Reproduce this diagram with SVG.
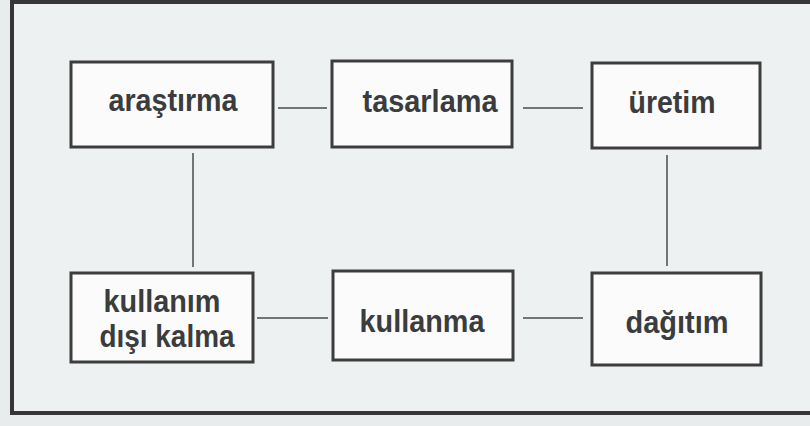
<svg xmlns="http://www.w3.org/2000/svg" width="810" height="426" viewBox="0 0 810 426">
<style>
.box{fill:#fbfbfb;stroke:#3d3d3d;stroke-width:3}
.lbl{font-family:"Liberation Sans",Arial,sans-serif;font-weight:bold;font-size:31px;fill:#3a3c3e;text-anchor:middle}
.conn line{stroke:#4a4a4a;stroke-width:1.5}
</style>
<rect x="0" y="0" width="810" height="426" fill="#e9eced"/>
<rect x="12" y="2" width="900" height="411" fill="#eef1f2" stroke="#363636" stroke-width="4"/>
<g id="n-arastirma"><rect class="box" x="71" y="62" width="202" height="85"/><text class="lbl" x="173" y="111" textLength="129" lengthAdjust="spacingAndGlyphs">araştırma</text></g>
<g id="n-tasarlama"><rect class="box" x="332" y="61" width="180" height="86"/><text class="lbl" x="430" y="112" textLength="135" lengthAdjust="spacingAndGlyphs">tasarlama</text></g>
<g id="n-uretim"><rect class="box" x="592" y="63" width="168" height="85"/><text class="lbl" x="672" y="113" textLength="87" lengthAdjust="spacingAndGlyphs">üretim</text></g>
<g id="n-kullanim-disi"><rect class="box" x="71" y="273" width="182" height="89"/><text class="lbl" x="162" y="312" textLength="117" lengthAdjust="spacingAndGlyphs">kullanım</text><text class="lbl" x="167" y="347" textLength="135" lengthAdjust="spacingAndGlyphs">dışı kalma</text></g>
<g id="n-kullanma"><rect class="box" x="333" y="271" width="180" height="89"/><text class="lbl" x="422" y="332" textLength="125" lengthAdjust="spacingAndGlyphs">kullanma</text></g>
<g id="n-dagitim"><rect class="box" x="592" y="273" width="169" height="92"/><text class="lbl" x="677" y="333" textLength="103" lengthAdjust="spacingAndGlyphs">dağıtım</text></g>
<g class="conn" id="connectors">
<line x1="278" y1="108" x2="327" y2="108"/>
<line x1="523" y1="108" x2="583" y2="108"/>
<line x1="193" y1="153" x2="193" y2="267"/>
<line x1="667" y1="155" x2="667" y2="266"/>
<line x1="257" y1="318" x2="328" y2="318"/>
<line x1="523" y1="318" x2="583" y2="318"/>
</g>
</svg>
